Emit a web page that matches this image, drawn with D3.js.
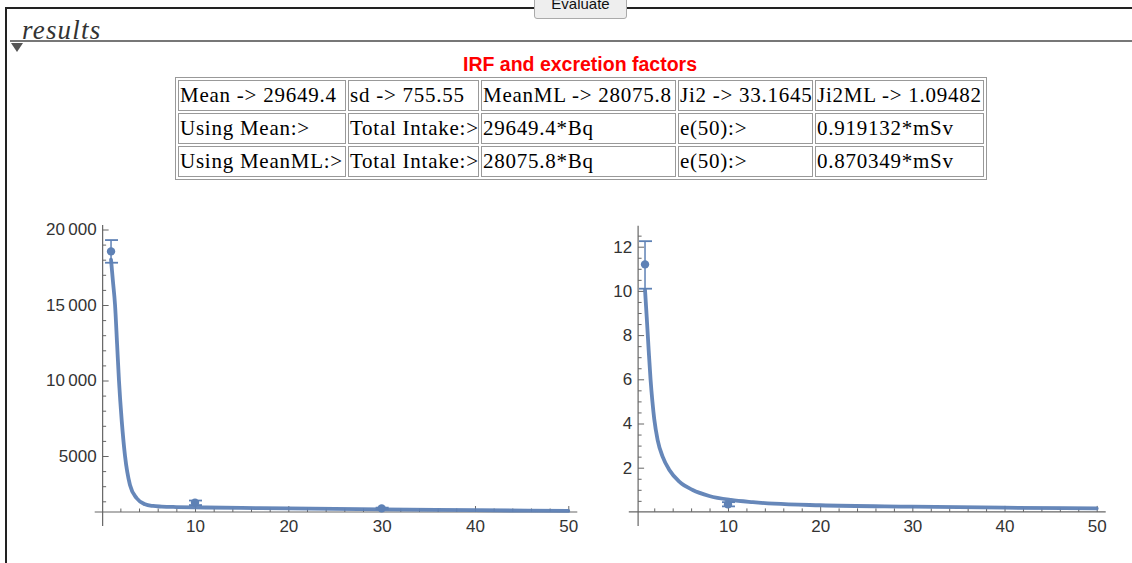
<!DOCTYPE html>
<html>
<head>
<meta charset="utf-8">
<script src="https://d3js.org/d3.v7.min.js"></script>
<style>
  body { margin:0; background:#fff; width:1132px; height:563px; overflow:hidden; position:relative; }
  #frame { position:absolute; left:5px; top:7px; width:1140px; height:600px; border-top:2px solid #222; border-left:2px solid #222; }
  #btn { position:absolute; left:534px; top:-14px; width:93px; height:33px; border:1px solid #aaa; border-radius:3px; background:#eee;
         font:15px "Liberation Sans", Arial, sans-serif; text-align:center; line-height:33px; color:#111; box-sizing:border-box; }
  #res { position:absolute; left:22px; top:15px; font:italic 27px "Liberation Serif", serif; color:#333; letter-spacing:1.2px; }
  #rule { position:absolute; left:10px; top:40px; width:1130px; height:2px; background:#777; }
  #tri { position:absolute; left:11px; top:43px; width:0; height:0; border-left:6px solid transparent; border-right:6px solid transparent; border-top:9px solid #555; }
  #title { position:absolute; left:0; width:1160px; top:53px; text-align:center; color:#f00; font:bold 19.5px "Liberation Sans", Arial, sans-serif; }
  #tbl { position:absolute; left:175px; top:77px; border-collapse:separate; border-spacing:2px; border:1px solid #999; }
  #tbl td { border:1px solid #999; font:21px "Liberation Serif", "Times New Roman", serif; letter-spacing:0.75px; padding:0 1px; height:29px; white-space:nowrap; color:#000; overflow:hidden; }
  svg { position:absolute; left:0; top:0; }
  .tl text { font:17px "Liberation Sans", Arial, sans-serif; fill:#333; }
</style>
</head>
<body>
<div id="frame"></div>
<div id="btn">Evaluate</div>
<div id="res">results</div>
<div id="rule"></div>
<div id="tri"></div>
<div id="title">IRF and excretion factors</div>
<table id="tbl"></table>
<svg id="chart" width="1132" height="563"></svg>
<script>
// table contents
const tableRows = [
  ["Mean -> 29649.4", "sd -> 755.55", "MeanML -> 28075.8", "Ji2 -> 33.1645", "Ji2ML -> 1.09482"],
  ["Using Mean:>", "Total Intake:>", "29649.4*Bq", "e(50):>", "0.919132*mSv"],
  ["Using MeanML:>", "Total Intake:>", "28075.8*Bq", "e(50):>", "0.870349*mSv"]
];
const colWidths = [164, 127, 191, 131, 165];

// left plot: measured points [t, value, low, high] and fitted curve
const leftPoints = [[1, 18550, 17800, 19300], [10, 1900, 1750, 2050], [30, 1530, 1480, 1580]];
const leftCurve = [[1, 18000], [1.2, 16600], [1.43, 15000], [1.65, 12400], [1.85, 10000], [2.15, 7300], [2.5, 5000],
  [3.03, 3080], [3.75, 2200], [4.64, 1800], [5.5, 1690], [6.43, 1650], [8, 1620], [10, 1600], [15, 1560],
  [20, 1530], [30, 1470], [40, 1410], [50, 1360]];
const leftYTicks = [5000, 10000, 15000, 20000];
const leftYLabels = ["5000", "10\u2009000", "15\u2009000", "20\u2009000"];

// right plot
const rightPoints = [[1, 11.2, 10.1, 12.25], [10, 0.34, 0.25, 0.44]];
const rightCurve = [[1, 10.05], [1.2, 8.7], [1.4, 7.3], [1.6, 6.0], [1.8, 5.0], [2.0, 4.2], [2.37, 3.25], [2.91, 2.5],
  [3.64, 1.9], [4.72, 1.37], [6.17, 0.99], [7.97, 0.72], [10.3, 0.54], [12.7, 0.44], [15, 0.37], [20, 0.3],
  [30, 0.24], [40, 0.19], [50, 0.16]];
const rightYTicks = [2, 4, 6, 8, 10, 12];

const xTicks = [10, 20, 30, 40, 50];

// build the table
const tbl = d3.select("#tbl");
tbl.selectAll("tr").data(tableRows).join("tr")
  .selectAll("td").data(d => d).join("td")
  .style("width", (d, i) => colWidths[i] + "px")
  .style("max-width", (d, i) => colWidths[i] + "px")
  .text(d => d);

const svg = d3.select("#chart");
const blue = "#5E81B5";

function drawPlot(cfg) {
  const x = d3.scaleLinear().domain([0, 50]).range(cfg.xr);
  const y = d3.scaleLinear().domain(cfg.yd).range(cfg.yr);
  const g = svg.append("g");
  const ax = "#666";

  // x axis (ticks point up into plot)
  const xa = g.append("g").attr("class", "tl").attr("transform", `translate(0,${y(cfg.y0)})`);
  xa.call(d3.axisBottom(x).tickValues(xTicks).tickSizeInner(-6).tickSizeOuter(0).tickPadding(8).tickFormat(d3.format("d")));
  const xm = g.append("g").attr("transform", `translate(0,${y(cfg.y0)})`);
  xm.call(d3.axisBottom(x).tickValues(d3.range(2, 51, 2).filter(v => v % 10)).tickSizeInner(-3.5).tickSizeOuter(0).tickFormat(""));
  [xa, xm].forEach(s => { s.select(".domain").remove(); s.selectAll("line").attr("stroke", ax); });
  g.append("line").attr("x1", x(0) - 7).attr("x2", x(50) + 9).attr("y1", y(cfg.y0)).attr("y2", y(cfg.y0)).attr("stroke", ax).attr("stroke-width", 1.2);

  // y axis (ticks point right)
  const ya = g.append("g").attr("class", "tl").attr("transform", `translate(${x(cfg.x0)},0)`);
  ya.call(d3.axisLeft(y).tickValues(cfg.yt).tickSizeInner(-6).tickSizeOuter(0).tickPadding(6).tickFormat((d, i) => cfg.yl[i]));
  const ym = g.append("g").attr("transform", `translate(${x(cfg.x0)},0)`);
  ym.call(d3.axisLeft(y).tickValues(cfg.ym).tickSizeInner(-3.5).tickSizeOuter(0).tickFormat(""));
  [ya, ym].forEach(s => { s.select(".domain").remove(); s.selectAll("line").attr("stroke", ax); });
  g.append("line").attr("x1", x(cfg.x0)).attr("x2", x(cfg.x0)).attr("y1", y(cfg.yTop)).attr("y2", y(cfg.y0) + 14).attr("stroke", ax).attr("stroke-width", 1.2);

  // fitted curve
  g.append("path").datum(cfg.curve)
    .attr("d", d3.line().x(d => x(d[0])).y(d => y(d[1])).curve(d3.curveMonotoneX))
    .attr("fill", "none").attr("stroke", blue).attr("stroke-width", 3.8).attr("stroke-opacity", 0.95)
    .attr("stroke-linecap", "round");

  // error bars and points
  const pts = g.append("g").selectAll("g").data(cfg.points).join("g");
  pts.append("line").attr("x1", d => x(d[0])).attr("x2", d => x(d[0]))
    .attr("y1", d => y(d[2])).attr("y2", d => y(d[3])).attr("stroke", blue).attr("stroke-width", 1.5);
  pts.selectAll(".cap").data(d => [[d[0], d[2]], [d[0], d[3]]]).join("line").attr("class", "cap")
    .attr("x1", d => x(d[0]) - 6).attr("x2", d => x(d[0]) + 7)
    .attr("y1", d => y(d[1])).attr("y2", d => y(d[1])).attr("stroke", blue).attr("stroke-width", 1.8);
  pts.append("circle").attr("cx", d => x(d[0])).attr("cy", d => y(d[1])).attr("r", 4.2).attr("fill", blue);
}

drawPlot({
  xr: [101.7, 568.3], yd: [0, 20000], yr: [531.5, 229.5], y0: 1290, x0: 0.1, yTop: 20300,
  yt: leftYTicks, yl: leftYLabels, ym: d3.range(2000, 20001, 1000).filter(v => v % 5000),
  curve: leftCurve, points: leftPoints
});
drawPlot({
  xr: [635.8, 1096.7], yd: [0, 12], yr: [511.9, 246.7], y0: 0, x0: 0.25, yTop: 12.95,
  yt: rightYTicks, yl: rightYTicks.map(String), ym: d3.range(0.5, 12.6, 0.5).filter(v => v % 2),
  curve: rightCurve, points: rightPoints
});
</script>
</body>
</html>
